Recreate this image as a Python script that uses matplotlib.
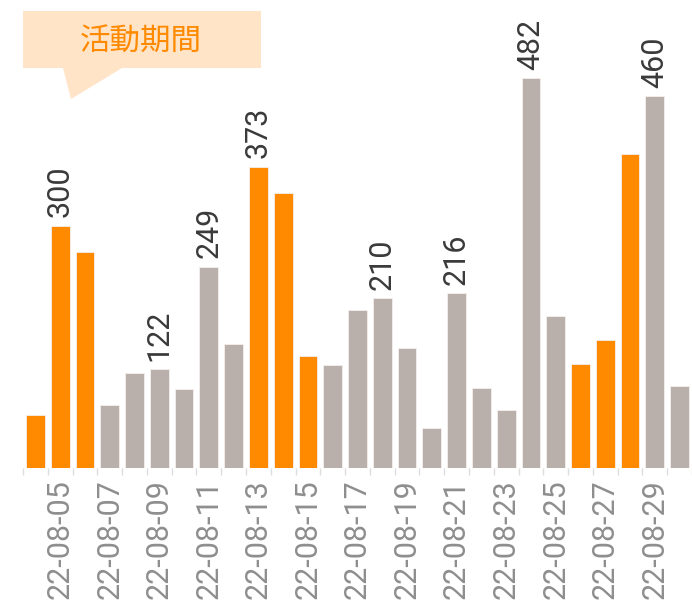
import matplotlib
matplotlib.use('Agg')
import matplotlib.pyplot as plt
from matplotlib.patches import Polygon
import numpy as np

# data
dates = ['22-08-%02d' % d for d in range(4, 31)]
counts = [65, 300, 267, 78, 118, 122, 98, 249, 154, 373, 340, 138, 128,
          195, 210, 148, 49, 216, 99, 72, 482, 188, 129, 158, 389, 460, 102]
active = ['22-08-04', '22-08-05', '22-08-06', '22-08-13', '22-08-14',
          '22-08-15', '22-08-26', '22-08-27', '22-08-28']
labelled = ['22-08-05', '22-08-09', '22-08-11', '22-08-13', '22-08-18',
            '22-08-21', '22-08-24', '22-08-29']
callout_text = '活動期間'

orange = '#FF8A00'
grey = '#BAB0AB'
peach = '#FFE4C8'

num_font = 'Roboto'

fig = plt.figure(figsize=(6.92, 6.04), dpi=100)
ax = fig.add_axes([23 / 692, 136 / 604, 669 / 692, 468 / 604])

x = np.arange(len(dates))
colours = [orange if d in active else grey for d in dates]
ax.bar(x, counts, width=0.76, color=colours, edgecolor='#f4f0ee', linewidth=0.6)

for i, d in enumerate(dates):
    if d in labelled:
        ax.annotate(str(counts[i]), (x[i], counts[i]), xytext=(0, 6),
                    textcoords='offset points', rotation=90, ha='center',
                    va='bottom', fontsize=22, color='#3a3a3a', family=num_font)

ax.set_xlim(-0.5, 26.22)
ax.set_ylim(0, 579)

# labels on odd days, small marks between the days
ax.set_xticks(x[1::2])
ax.set_xticklabels(dates[1::2], rotation=90, fontsize=22, color='#8e8e8e',
                   family=num_font, va='top')
ax.tick_params(axis='x', which='major', length=0, pad=8)
ax.set_xticks(np.arange(len(dates) + 1) - 0.5, minor=True)
ax.tick_params(axis='x', which='minor', length=5, width=1, color='#dddddd')
ax.set_yticks([])
for s in ax.spines.values():
    s.set_visible(False)

# callout box
box = [(23, 11), (261, 11), (261, 68), (122, 68), (71, 99), (63, 68), (23, 68)]
box = [(px / 692, 1 - py / 604) for px, py in box]
fig.patches.append(Polygon(box, closed=True, facecolor=peach, edgecolor='none',
                           transform=fig.transFigure, figure=fig))
fig.text(141 / 692, 1 - 42 / 604, callout_text, ha='center', va='center',
         fontsize=22, color=orange, family=['Noto Sans CJK JP', 'DejaVu Sans'])

fig.savefig('out.png', dpi=100)
